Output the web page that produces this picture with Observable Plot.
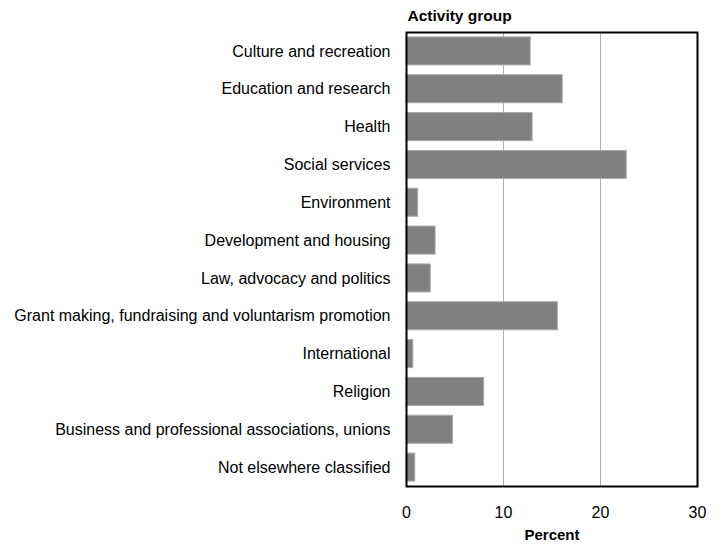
<!DOCTYPE html>
<html>
<head>
<meta charset="utf-8">
<script src="https://cdn.jsdelivr.net/npm/d3@7"></script>
<script src="https://cdn.jsdelivr.net/npm/@observablehq/plot@0.6"></script>
<style>
  body { margin: 0; background: #fff; }
  #chart svg { display: block; }
</style>
</head>
<body>
<div id="chart"></div>
<script>
const categories = [
  "Culture and recreation",
  "Education and research",
  "Health",
  "Social services",
  "Environment",
  "Development and housing",
  "Law, advocacy and politics",
  "Grant making, fundraising and voluntarism promotion",
  "International",
  "Religion",
  "Business and professional associations, unions",
  "Not elsewhere classified"
];
const percents = [12.8, 16.1, 13.0, 22.7, 1.2, 3.0, 2.5, 15.6, 0.7, 8.0, 4.8, 0.9];
const xTicks = [0, 10, 20, 30];
const gridTicks = [10, 20];

const data = categories.map((c, i) => ({category: c, value: percents[i]}));

const chart = Plot.plot({
  width: 722,
  height: 544,
  marginLeft: 406,
  marginRight: 25,
  marginTop: 32,
  marginBottom: 58,
  style: {fontFamily: "'Liberation Sans', Arial, sans-serif", fontSize: "16px", color: "#000", background: "#fff"},
  x: {domain: [0, 30], ticks: xTicks, tickSize: 0, tickPadding: 20, label: null},
  y: {domain: categories, paddingInner: 0.26, paddingOuter: 0.13, round: false, tickSize: 0, tickPadding: 16, label: null},
  marks: [
    Plot.ruleX(gridTicks, {stroke: "#b0b0b0", strokeWidth: 1}),
    Plot.barX(data, {x: "value", y: "category", fill: "#808080", stroke: "#a8a8a8", strokeWidth: 1}),
    Plot.frame({stroke: "#000", strokeWidth: 2}),
    Plot.text(["Activity group"], {frameAnchor: "top-left", dy: -12, dx: 1, textAnchor: "start", lineAnchor: "bottom", fontWeight: "bold", fontSize: 15.5}),
    Plot.text(["Percent"], {frameAnchor: "bottom", dy: 53, fontWeight: "bold", fontSize: 15})
  ]
});

document.getElementById("chart").appendChild(chart);
</script>
</body>
</html>
